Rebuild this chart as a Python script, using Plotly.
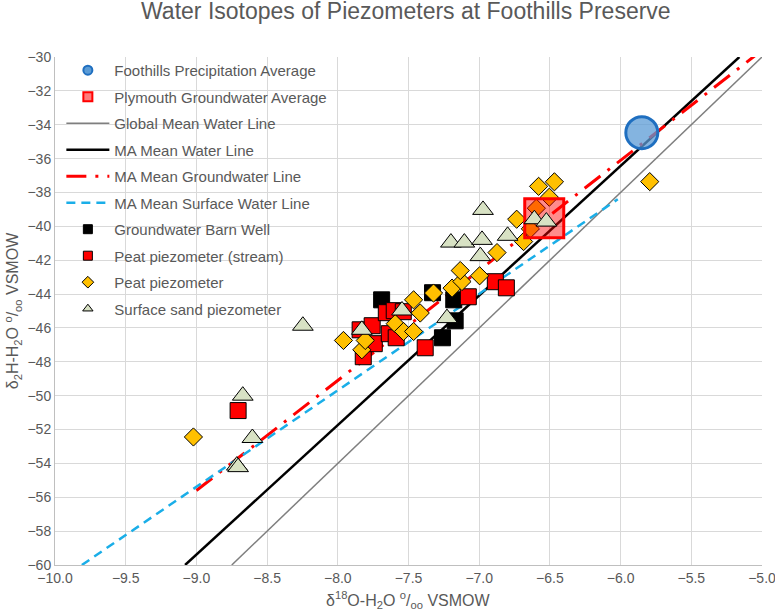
import plotly.graph_objects as go

# isotope data (d18O, d2H, per mil VSMOW)
precip_avg_x = [-5.85]
precip_avg_y = [-34.47]

plymouth_avg_x = [-6.54]
plymouth_avg_y = [-39.52]

# water lines, end points where they leave the plot
gmwl_x = [-8.75, -5.0]
gmwl_y = [-60.0, -30.0]
ma_mwl_x = [-9.08, -5.16]
ma_mwl_y = [-60.0, -30.0]
ma_gw_x = [-9.0, -5.0]
ma_gw_y = [-55.6, -29.6]
ma_sw_x = [-9.81, -6.02]
ma_sw_y = [-60.0, -38.4]

barn_x = [-7.69, -7.33, -7.18, -7.17, -7.26]
barn_y = [-44.34, -43.92, -44.34, -45.58, -46.58]

stream_x = [-8.705, -7.842, -7.757, -7.820, -7.742, -7.657, -7.601, -7.636,
            -7.587, -7.537, -7.382, -7.077, -6.886, -6.808]
stream_y = [-50.88, -46.11, -45.87, -47.70, -46.93, -45.10, -44.98, -46.34,
            -46.58, -45.04, -47.17, -44.16, -43.27, -43.63]

peat_x = [-9.021, -7.960, -7.830, -7.806, -7.594, -7.464, -7.417, -7.535,
          -7.464, -7.323, -7.192, -7.122, -7.134, -6.997, -6.874, -6.735,
          -6.686, -6.638, -6.596, -6.580, -6.468, -6.504, -5.794]
peat_y = [-52.44, -46.74, -47.29, -46.74, -45.75, -44.34, -45.12, -46.21,
          -46.21, -43.94, -43.65, -43.26, -42.61, -42.92, -41.55, -39.58,
          -40.90, -40.15, -38.93, -37.64, -37.37, -38.28, -37.36]

sand_x = [-8.672, -8.604, -8.714, -8.705, -8.247, -7.830, -7.546, -7.228,
          -6.992, -6.973, -7.200, -7.105, -6.980, -6.799, -6.610, -6.525]
sand_y = [-50.00, -52.50, -54.13, -54.22, -45.87, -46.11, -44.97, -45.42,
          -41.76, -39.03, -40.96, -40.96, -40.80, -40.56, -39.58, -39.72]

GREY_TEXT = "#595959"
FONT = "Liberation Sans, Arial, sans-serif"


def legend_marker(name, symbol, color, line_color, rank, line_width=1):
    """empty trace that only puts a small marker in the legend"""
    return go.Scatter(
        x=[None], y=[None], mode="markers", name=name,
        legendgroup=name, legendrank=rank,
        marker=dict(symbol=symbol, size=9, color=color,
                    line=dict(color=line_color, width=line_width)),
    )


def data_marker(x, y, name, symbol, size, color, line_color, line_width=1):
    return go.Scatter(
        x=x, y=y, mode="markers", name=name, legendgroup=name,
        showlegend=False,
        marker=dict(symbol=symbol, size=size, color=color,
                    line=dict(color=line_color, width=line_width)),
    )


fig = go.Figure()

# lines first so the markers sit on top
fig.add_trace(go.Scatter(x=gmwl_x, y=gmwl_y, mode="lines", name="Global Mean Water Line",
                         legendgroup="g", legendrank=3,
                         line=dict(color="#7f7f7f", width=1.5)))
fig.add_trace(go.Scatter(x=ma_mwl_x, y=ma_mwl_y, mode="lines", name="MA Mean Water Line",
                         legendgroup="m", legendrank=4,
                         line=dict(color="black", width=2.5)))
fig.add_trace(go.Scatter(x=ma_gw_x, y=ma_gw_y, mode="lines", name="MA Mean Groundwater Line",
                         legendgroup="gw", legendrank=5,
                         line=dict(color="#ff0000", width=3, dash="20px,9px,3px,9px")))
fig.add_trace(go.Scatter(x=ma_sw_x, y=ma_sw_y, mode="lines", name="MA Mean Surface Water Line",
                         legendgroup="sw", legendrank=6,
                         line=dict(color="#1aaee8", width=2.5, dash="9px,6px")))

fig.add_trace(data_marker(barn_x, barn_y, "Groundwater Barn Well", "square", 16, "black", "black"))
fig.add_trace(data_marker(stream_x, stream_y, "Peat piezometer (stream)", "square", 16, "#ff0000", "black"))
fig.add_trace(data_marker(peat_x, peat_y, "Peat piezometer", "diamond", 14, "#ffc000", "black"))
fig.add_trace(data_marker(plymouth_avg_x, plymouth_avg_y, "Plymouth Groundwater Average",
                          "square", 39, "rgba(255,0,0,0.45)", "#ff0000", 3))
fig.add_trace(data_marker(precip_avg_x, precip_avg_y, "Foothills Precipitation Average",
                          "circle", 32, "rgba(91,155,213,0.75)", "#1f6fc0", 3))
fig.add_trace(data_marker(sand_x, sand_y, "Surface sand piezometer", "triangle-up", 18, "#d8e2c4", "black"))

fig.add_trace(legend_marker("Foothills Precipitation Average", "circle", "#5b9bd5", "#1f6fc0", 1, 2))
fig.add_trace(legend_marker("Plymouth Groundwater Average", "square", "#ff7b7b", "#ff0000", 2, 2))
fig.add_trace(legend_marker("Groundwater Barn Well", "square", "black", "black", 7))
fig.add_trace(legend_marker("Peat piezometer (stream)", "square", "#ff0000", "black", 8))
fig.add_trace(legend_marker("Peat piezometer", "diamond", "#ffc000", "black", 9))
fig.add_trace(legend_marker("Surface sand piezometer", "triangle-up", "#d8e2c4", "black", 10))

fig.update_layout(
    width=775,
    height=614,
    margin=dict(l=55, r=13, t=57, b=49),
    paper_bgcolor="white",
    plot_bgcolor="white",
    font=dict(family=FONT, size=14, color=GREY_TEXT),
    legend=dict(x=0.009, y=1.006, xanchor="left", yanchor="top",
                bgcolor="rgba(0,0,0,0)", itemwidth=43,
                traceorder="grouped", tracegroupgap=4,
                font=dict(size=15, color=GREY_TEXT)),
    annotations=[
        dict(text="Water Isotopes of Piezometers at Foothills Preserve",
             xref="paper", yref="paper", x=0.497, y=1.09,
             xanchor="center", yanchor="middle", showarrow=False,
             font=dict(size=23, color=GREY_TEXT)),
        dict(text="δ<sup>18</sup>O-H<sub>2</sub>O <sup>o</sup>/<sub>oo</sub> VSMOW",
             xref="paper", yref="paper", x=0.5, y=-0.068,
             xanchor="center", yanchor="middle", showarrow=False,
             font=dict(size=16, color=GREY_TEXT)),
    ],
)
fig.update_xaxes(
    range=[-10, -5], dtick=0.5, tickformat=".1f",
    showgrid=True, gridcolor="#d9d9d9", gridwidth=1,
    showline=True, linecolor="#bfbfbf", zeroline=False,
    ticks="", tickfont=dict(size=14, color=GREY_TEXT),
    ticklabeloverflow="allow", automargin=False,
)
fig.update_yaxes(
    range=[-60, -30], dtick=2,
    showgrid=True, gridcolor="#d9d9d9", gridwidth=1,
    showline=True, linecolor="#bfbfbf", zeroline=False,
    ticks="", tickfont=dict(size=14, color=GREY_TEXT),
    automargin=False,
    title=dict(text="δ<sub>2</sub>H-H<sub>2</sub>O <sup>o</sup>/<sub>oo</sub> VSMOW",
               font=dict(size=16, color=GREY_TEXT), standoff=4),
)

# drop the page margin so the figure sits at the window corner
fig.write_html("out.html", config={"displayModeBar": False},
               post_script="document.body.style.margin = '0';")
